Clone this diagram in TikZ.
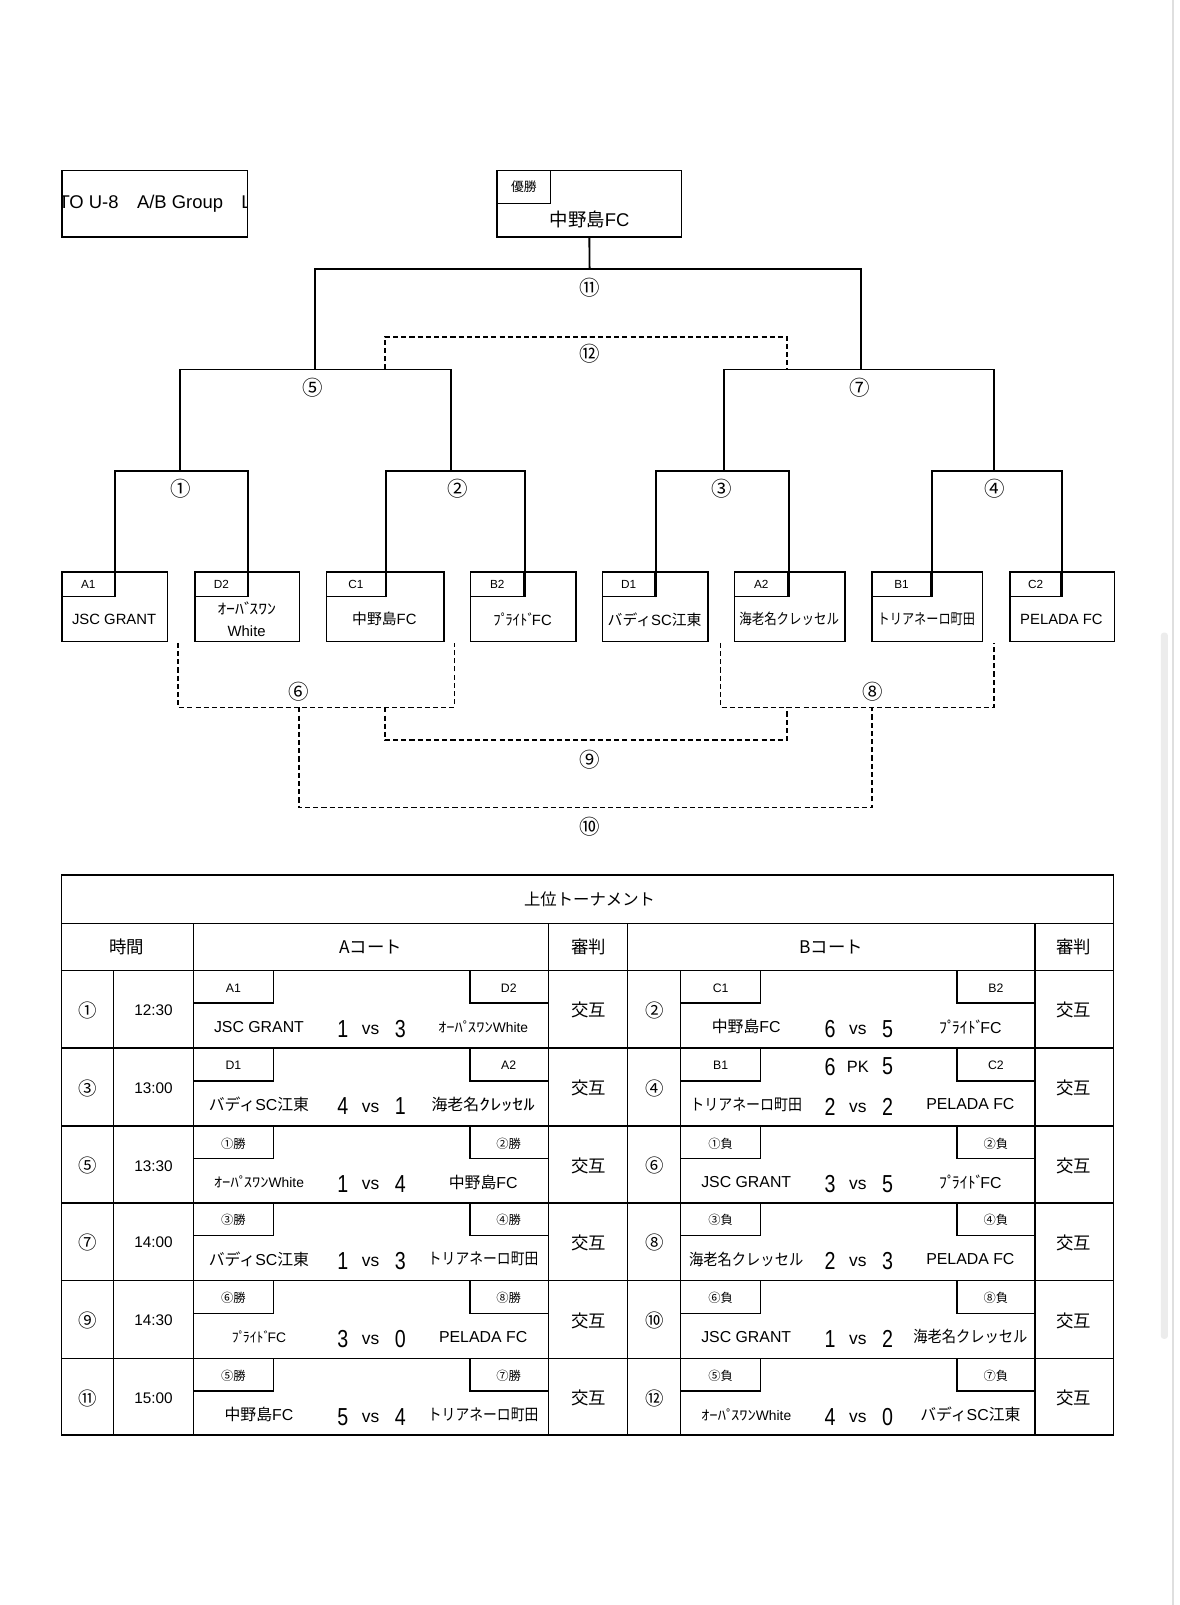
\documentclass[tikz,border=0pt]{standalone}
\usepackage{fontspec}
\usepackage{graphicx}
\setmainfont{Liberation Sans}
\newfontfamily\jp{Noto Sans CJK JP}
\newcommand\J[1]{{\jp #1}}
\newcommand\dk{\kern-0.2em}
\newcommand\sx[2]{\scalebox{#1}[1]{#2}}
\newcommand\scr[1]{\scalebox{0.8}[1]{#1}}
\newcommand\smt[1]{{\fontsize{13.5}{14}\selectfont #1}}
\newcommand\opus{\sx{1.2}{\J{ｵｰﾊﾟ\dk ｽﾜﾝ}}}
\newcommand\pride{\J{ﾌﾟ\dk ﾗｲﾄﾞ\dk}FC}
% team box in bracket: #1 name, #2 xl, #3 xr, #4 label xr, #5 label
\newcommand\tb[5]{%
  \node[bx,minimum width={(#3-#2)*1pt},minimum height=68pt] (b#1) at (#2,558) {};
  \node[blab,minimum width={(#4-#2)*1pt}] (l#1) at (#2,558) {#5};
}
% one court of a table row
\newcommand\side[9]{%
  \draw[tl] (#2+78,#3) -- (#2+78,#3+32) -- (#2,#3+32);
  \draw[tl] (#2+270,#3) -- (#2+270,#3+32) -- (#2+347,#3+32);
  \node[tlab] (#1ll) at (#2+39,#3+17) {#4};
  \node[tlab] (#1rl) at (#2+308,#3+17) {#5};
  \node[tteam] (#1lt) at (#2+64,#3+55) {#6};
  \node[tsc] (#1ls) at (#2+146,#3+57) {\scr{#7}};
  \node[tvs] (#1vs) at (#2+173,#3+58) {vs};
  \node[tsc] (#1rs) at (#2+202,#3+57) {\scr{#8}};
  \node[tteam] (#1rt) at (#2+283,#3+55) {#9};
}
\newcommand\rinfo[5]{%
  \node[tnum] (na#1) at (86,#2+39) {#3};
  \node[ttime] (tm#1) at (150,#2+39) {#4};
  \node[thd] (ra#1) at (575,#2+39) {交互};
  \node[tnum] (nb#1) at (640,#2+39) {#5};
  \node[thd] (rb#1) at (1049,#2+39) {交互};
}
\begin{document}
\begin{tikzpicture}[x=1pt,y=-1pt,
  brk/.style={line width=1.8pt},
  dsh/.style={line width=1.5pt,dash pattern=on 5pt off 3pt},
  bx/.style={draw,line width=1.5pt,inner sep=0pt,anchor=north west},
  blab/.style={bx,minimum height=24pt,font=\fontsize{11.5}{12}\selectfont},
  bteam/.style={inner sep=0pt,font=\fontsize{14.5}{15}\selectfont},
  cnum/.style={inner sep=0pt,font=\jp\fontsize{20}{20}\selectfont},
  tl/.style={line width=1.5pt},
  tlab/.style={inner sep=0pt,font=\fontsize{12}{12}\selectfont},
  tteam/.style={inner sep=0pt,font=\fontsize{15.5}{16}\selectfont},
  tsc/.style={inner sep=0pt,font=\fontsize{24}{24}\selectfont},
  tvs/.style={inner sep=0pt,font=\fontsize{17}{17}\selectfont},
  thd/.style={inner sep=0pt,font=\jp\fontsize{17}{17}\selectfont},
  tnum/.style={inner sep=0pt,font=\jp\fontsize{18}{18}\selectfont},
  ttime/.style={inner sep=0pt,font=\fontsize{15}{15}\selectfont},
]
\useasboundingbox (0,0) rectangle (1152,1568);
\fill[white] (0,0) rectangle (1152,1568);
% page edge and scrollbar of the screenshot
\draw[gray!25,line width=1.2pt] (1146,0) -- (1146,1568);
\fill[gray!15,rounded corners=3pt] (1134,618) rectangle (1141,1308);

% title box (clipped text)
\begin{scope}
  \clip (60,166) rectangle (241,231);
  \node[anchor=west,inner sep=0pt,font=\fontsize{18}{18}\selectfont] (ttl) at (57,199) {TO U-8\J{　}A/B Group\J{　}L};
\end{scope}
\node[bx,minimum width=181pt,minimum height=65pt] (tbox) at (60,166) {};

% champion box
\node[bx,minimum width=180pt,minimum height=65pt] (champ) at (485,166) {};
\node[bx,minimum width=52pt,minimum height=32pt,font=\jp\fontsize{12.5}{13}\selectfont] (yusho) at (485,166) {優勝};
\node[inner sep=0pt,font=\fontsize{18}{18}\selectfont] (champt) at (576,214) {\J{中野島}FC};

% team boxes
\tb{A1}{60}{163}{111}{A1}
\tb{D2}{190}{292}{241}{D2}
\tb{C1}{318}{433}{376}{C1}
\tb{B2}{459}{562}{511}{B2}
\tb{D1}{588}{691}{639}{D1}
\tb{A2}{717}{825}{769}{A2}
\tb{B1}{851}{959}{909}{B1}
\tb{C2}{986}{1088}{1036}{C2}
\node[bteam] (tA1) at (111.5,605) {JSC GRANT};
\node[bteam] (tD2a) at (241,594) {\sx{1.2}{\J{ｵｰﾊﾞ\dk ｽﾜﾝ}}};
\node[bteam] (tD2b) at (241,617) {White};
\node[bteam] (tC1) at (375.5,605) {\J{中野島}FC};
\node[bteam] (tB2) at (510.5,605) {\pride};
\node[bteam] (tD1) at (639.5,605) {\J{バディ}SC\J{江東}};
\node[bteam] (tA2) at (771,605) {\sx{0.84}{\J{海老名クレッセル}}};
\node[bteam] (tB1) at (905,605) {\sx{0.82}{\J{トリアネーロ町田}}};
\node[bteam] (tC2) at (1037,605) {PELADA FC};

% bracket junctions
\coordinate (m11) at (576,263);
\coordinate (m5) at (308,361);
\coordinate (m7) at (841,361);
\coordinate (m1) at (176,460);
\coordinate (m2) at (441,460);
\coordinate (m3) at (707,460);
\coordinate (m4) at (971,460);
\draw[brk] (champ.south) -- (m11);
\draw[brk] (m5) |- (m11) -| (m7);
\draw[brk] (m1) |- (m5) -| (m2);
\draw[brk] (m3) |- (m7) -| (m4);
\draw[brk] (lA1.south east) |- (m1) -| (lD2.south east);
\draw[brk] (lC1.south east) |- (m2) -| (lB2.south east);
\draw[brk] (lD1.south east) |- (m3) -| (lA2.south east);
\draw[brk] (lB1.south east) |- (m4) -| (lC2.south east);
\node[cnum] (c11) at (576,281) {⑪};
\node[cnum] (c5) at (306,379) {⑤};
\node[cnum] (c7) at (840,379) {⑦};
\node[cnum] (c1) at (177,477) {①};
\node[cnum] (c2) at (447,477) {②};
\node[cnum] (c3) at (705,477) {③};
\node[cnum] (c4) at (972,477) {④};

% dashed (losers) bracket
\coordinate (d5) at (376,361);
\coordinate (d7) at (769,361);
\coordinate (d12) at (576,329);
\draw[dsh] (d5) |- (d12) -| (d7);
\node[cnum] (c12) at (576,346) {⑫};
\coordinate (e1) at (174,628);
\coordinate (e2) at (444,628);
\coordinate (e3) at (704,628);
\coordinate (e4) at (971,628);
\coordinate (d6) at (292,691);
\coordinate (d8) at (852,691);
\coordinate (d6b) at (376,691);
\coordinate (d8b) at (769,691);
\coordinate (d9) at (576,723);
\coordinate (d10) at (576,789);
\draw[dsh] (e1) |- (d6) -| (e2);
\draw[dsh] (e3) |- (d8) -| (e4);
\draw[dsh] (d6b) |- (d9) -| (d8b);
\draw[dsh] (d6) |- (d10) -| (d8);
\node[cnum] (c6) at (292,676) {⑥};
\node[cnum] (c8) at (853,676) {⑧};
\node[cnum] (c9) at (576,742) {⑨};
\node[cnum] (c10) at (576,808) {⑩};

% ===== table =====
\draw[tl] (60,855) rectangle (1088,1402);
\draw[tl] (60,902) -- (1088,902);
\foreach \yy in {948,1024,1100,1175,1251,1327} \draw[tl] (60,\yy) -- (1088,\yy);
\foreach \xx in {189,536,613,1011} \draw[tl] (\xx,902) -- (\xx,1402);
\foreach \xx in {111,665} \draw[tl] (\xx,948) -- (\xx,1402);
\node[inner sep=0pt,font=\jp\fontsize{16}{16}\selectfont] (ttitle) at (576,879) {上位トーナメント};
\node[thd] (h1) at (124,925) {時間};
\node[thd] (h2) at (362,925) {A\J{コート}};
\node[thd] (h3) at (575,925) {審判};
\node[thd] (h4) at (812,925) {B\J{コート}};
\node[thd] (h5) at (1049,925) {審判};

\rinfo{1}{948}{①}{12:30}{②}
\rinfo{2}{1024}{③}{13:00}{④}
\rinfo{3}{1100}{⑤}{13:30}{⑥}
\rinfo{4}{1175}{⑦}{14:00}{⑧}
\rinfo{5}{1251}{⑨}{14:30}{⑩}
\rinfo{6}{1327}{⑪}{15:00}{⑫}

\side{a1}{189}{948}{A1}{D2}{JSC GRANT}{1}{3}{\smt{\opus White}}
\side{b1}{665}{948}{C1}{B2}{\J{中野島}FC}{6}{5}{\pride}
\side{a2}{189}{1024}{D1}{A2}{\J{バディ}SC\J{江東}}{4}{1}{\J{海老名}\sx{1.4}{\J{ｸﾚｯｾﾙ}}}
\side{b2}{665}{1024}{B1}{C2}{\sx{0.88}{\J{トリアネーロ町田}}}{2}{2}{PELADA FC}
\node[tsc] (pk1) at (811,1042) {\scr{6}};
\node[tvs,font=\fontsize{16}{16}\selectfont] (pk) at (838,1042) {PK};
\node[tsc] (pk2) at (867,1042) {\scr{5}};
\side{a3}{189}{1100}{\J{①勝}}{\J{②勝}}{\smt{\opus White}}{1}{4}{\J{中野島}FC}
\side{b3}{665}{1100}{\J{①負}}{\J{②負}}{JSC GRANT}{3}{5}{\pride}
\side{a4}{189}{1175}{\J{③勝}}{\J{④勝}}{\J{バディ}SC\J{江東}}{1}{3}{\sx{0.87}{\J{トリアネーロ町田}}}
\side{b4}{665}{1175}{\J{③負}}{\J{④負}}{\sx{0.9}{\J{海老名クレッセル}}}{2}{3}{PELADA FC}
\side{a5}{189}{1251}{\J{⑥勝}}{\J{⑧勝}}{\smt{\pride}}{3}{0}{PELADA FC}
\side{b5}{665}{1251}{\J{⑥負}}{\J{⑧負}}{JSC GRANT}{1}{2}{\sx{0.9}{\J{海老名クレッセル}}}
\side{a6}{189}{1327}{\J{⑤勝}}{\J{⑦勝}}{\J{中野島}FC}{5}{4}{\sx{0.87}{\J{トリアネーロ町田}}}
\side{b6}{665}{1327}{\J{⑤負}}{\J{⑦負}}{\smt{\opus White}}{4}{0}{\J{バディ}SC\J{江東}}
\end{tikzpicture}
\end{document}
